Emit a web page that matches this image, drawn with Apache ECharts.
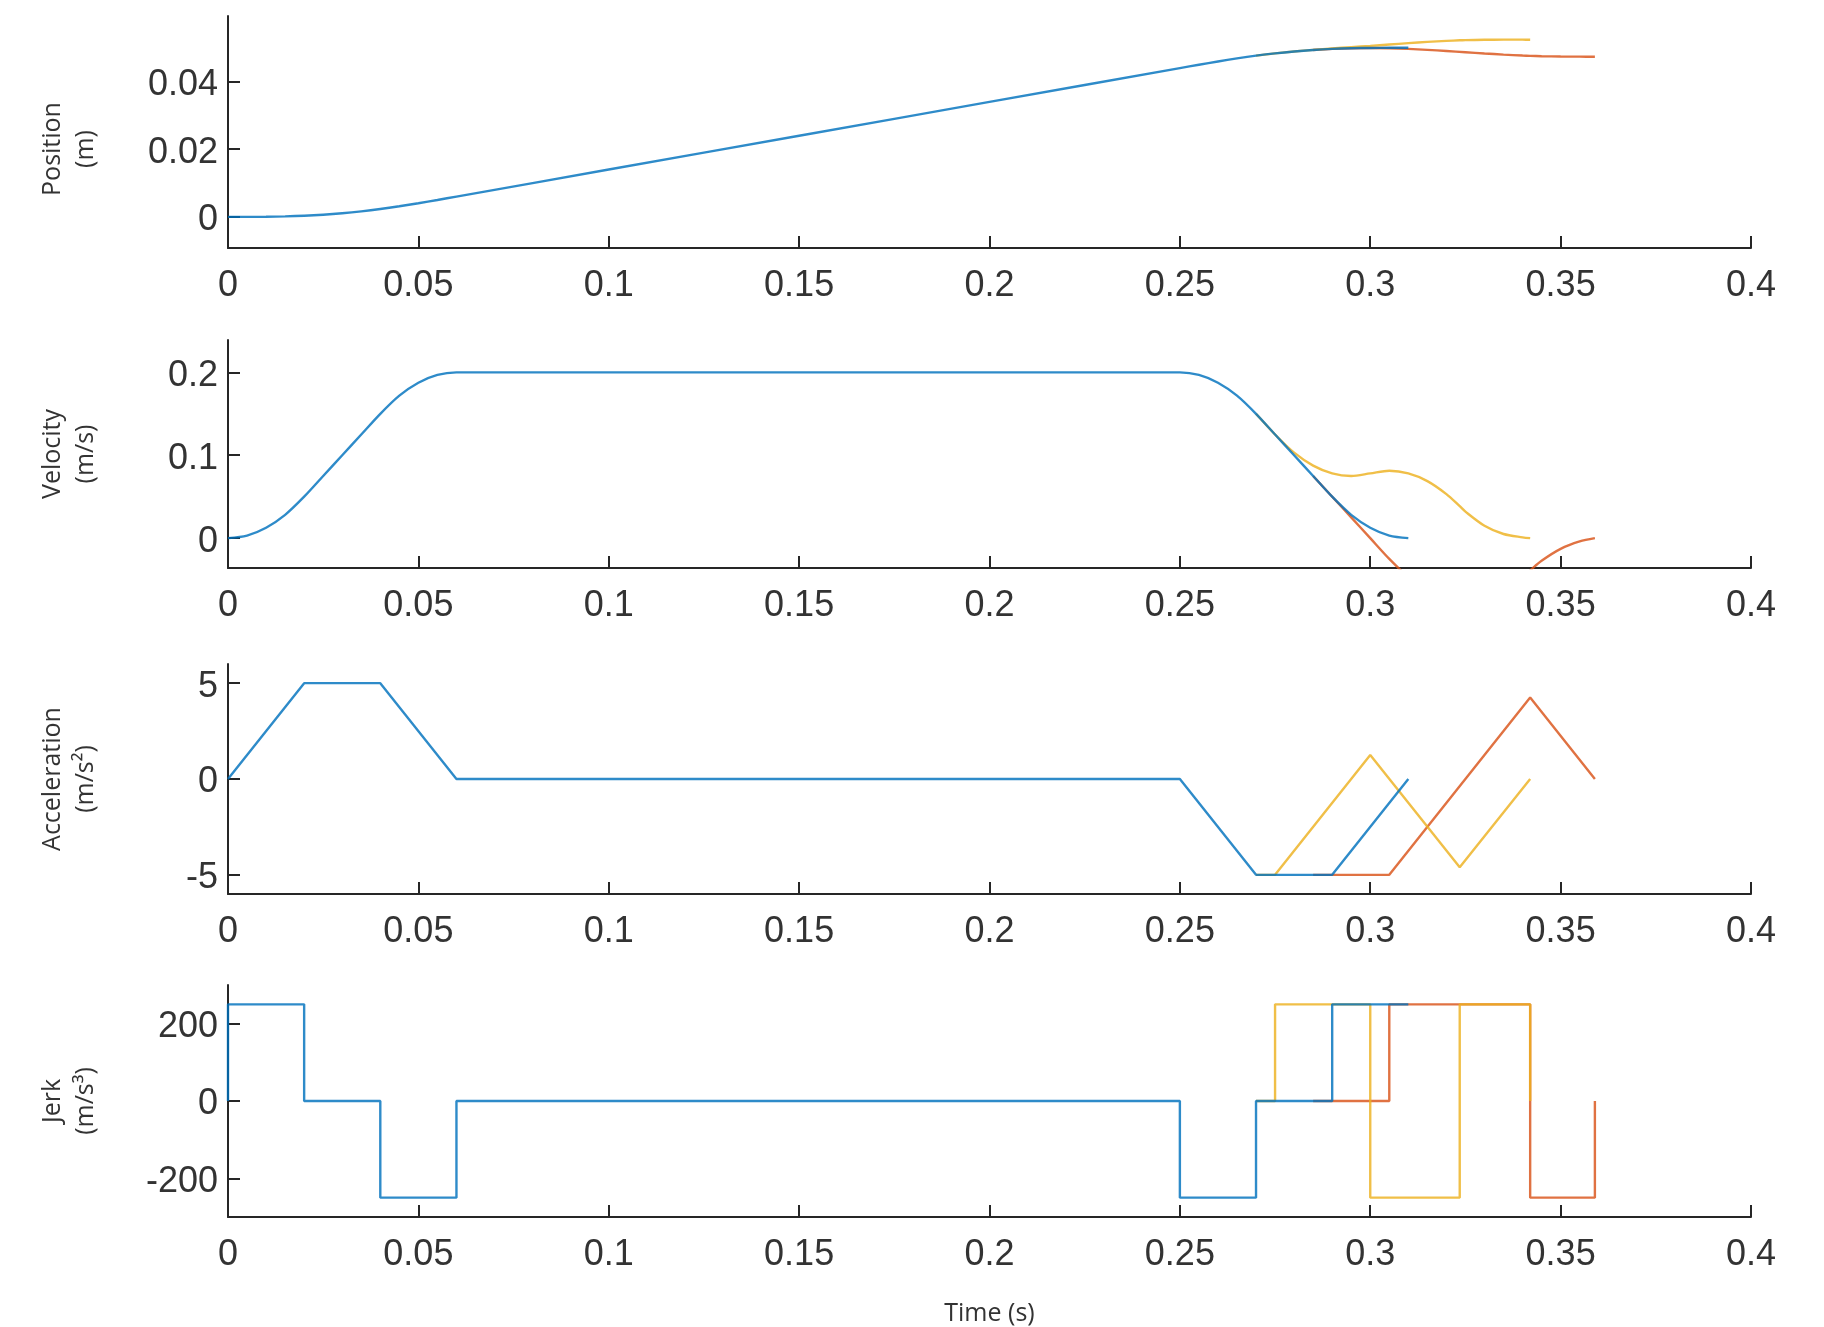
<!DOCTYPE html>
<html><head><meta charset="utf-8">
<script src="https://cdn.jsdelivr.net/npm/echarts@6/dist/echarts.min.js"></script>
<style>html,body{margin:0;padding:0;background:#fff}#c{width:1824px;height:1327px}</style>
</head><body><div id="c"></div>
<script>
// ---- Data ----
// Blue trajectory (position / velocity sample times)
const blueT   = [0,0.005,0.01,0.015,0.02,0.025,0.03,0.035,0.04,0.045,0.05,0.055,0.06,0.1,0.15,0.2,0.25,0.255,0.26,0.265,0.27,0.275,0.28,0.285,0.29,0.295,0.3,0.305,0.31];
const bluePos = [0,0.0000052,0.0000417,0.0001406,0.000333,0.000646,0.001083,0.001646,0.002333,0.003141,0.004042,0.005005,0.006,0.014,0.024,0.034,0.044,0.044995,0.045958,0.046859,0.047667,0.048354,0.048917,0.049354,0.049667,0.04986,0.049958,0.049995,0.05];
const blueVel = [0,0.0031,0.0125,0.0281,0.05,0.075,0.1,0.125,0.15,0.1719,0.1875,0.1969,0.2,0.2,0.2,0.2,0.2,0.1969,0.1875,0.1719,0.15,0.125,0.1,0.075,0.05,0.0281,0.0125,0.0031,0];
// Orange trajectory
const orangeT   = [0.285,0.29,0.295,0.3,0.305,0.31,0.315,0.32,0.325,0.33,0.335,0.34,0.342,0.345,0.35,0.355,0.359];
const orangePos = [0.049354,0.049667,0.049854,0.049917,0.049854,0.049672,0.049396,0.049057,0.048687,0.048318,0.047979,0.047703,0.047617,0.047518,0.047421,0.047379,0.047365];
const orangeVel = [0.075,0.05,0.025,0,-0.025,-0.0469,-0.0625,-0.0719,-0.075,-0.0719,-0.0625,-0.0469,-0.0389,-0.0273,-0.0129,-0.004,0];
// Yellow trajectory
const yellowT   = [0.27,0.275,0.28,0.285,0.29,0.295,0.3,0.305,0.31,0.315,0.32,0.3235,0.325,0.33,0.335,0.34,0.342];
const yellowPos = [0.047667,0.048354,0.048922,0.049396,0.049807,0.050187,0.050568,0.050969,0.05137,0.05174,0.052047,0.052208,0.05226,0.052372,0.052408,0.0524,0.052393];
const yellowVel = [0.15,0.125,0.1031,0.0875,0.0781,0.075,0.0781,0.0813,0.0781,0.0688,0.0531,0.0385,0.032,0.015,0.005,0.001,0];
// Acceleration breakpoints
const blueAccT   = [0,0.02,0.04,0.06,0.25,0.27,0.29,0.31];
const blueAcc    = [0,5,5,0,0,-5,-5,0];
const orangeAccT = [0.285,0.29,0.305,0.342,0.359];
const orangeAcc  = [-5,-5,-5,4.25,0];
const yellowAccT = [0.27,0.275,0.3,0.3235,0.342];
const yellowAcc  = [-5,-5,1.25,-4.6,0];
// Jerk steps
const blueJerkT   = [0,0,0.02,0.02,0.04,0.04,0.06,0.06,0.25,0.25,0.27,0.27,0.29,0.29,0.31];
const blueJerk    = [0,250,250,0,0,-250,-250,0,0,-250,-250,0,0,250,250];
const orangeJerkT = [0.285,0.305,0.305,0.342,0.342,0.359,0.359];
const orangeJerk  = [0,0,250,250,-250,-250,0];
const yellowJerkT = [0.27,0.275,0.275,0.3,0.3,0.3235,0.3235,0.342,0.342];
const yellowJerk  = [0,0,250,250,-250,-250,250,250,0];
// Axis ticks / labels
const yNames = ['Position\n(m)','Velocity\n(m/s)','Acceleration\n(m/s\u00B2)','Jerk\n(m/s\u00B3)'];
const yTicks = [[0,0.02,0.04],[0,0.1,0.2],[-5,0,5],[-200,0,200]];
const yRange = [[-0.0092,0.0594],[-0.036,0.239],[-6,6],[-300,300]];
const xTickInterval = 0.05;
const xRange = [0,0.4];

// ---- Chart ----
const COLORS = {blue:'#0072BD', orange:'#D95319', yellow:'#EDB120'};
const AX = '#262626';
const gridBoxes = [{top:16,height:232},{top:340,height:228},{top:664,height:230},{top:985,height:232}];
const zip = (t,v) => t.map((x,i)=>[x,v[i]]);

const grids = gridBoxes.map(g => ({left:228, right:73, top:g.top, height:g.height, containLabel:false}));
const xAxes = gridBoxes.map((g,i) => ({
  type:'value', gridIndex:i, min:xRange[0], max:xRange[1], interval:xTickInterval,
  axisLine:{show:true, onZero:false, lineStyle:{color:AX, width:2}},
  axisTick:{show:true, inside:true, length:12, lineStyle:{color:AX, width:2}},
  axisLabel:{show:true, margin:20, color:'#333', fontFamily:'Liberation Sans', fontSize:36},
  splitLine:{show:false},
  name: i===3 ? 'Time (s)' : '', nameLocation:'middle', nameGap:84,
  nameTextStyle:{fontFamily:'Open Sans', fontSize:25, color:'#333'}
}));
const yAxes = gridBoxes.map((g,i) => ({
  type:'value', gridIndex:i, min:yRange[i][0], max:yRange[i][1],
  axisLine:{show:true, onZero:false, lineStyle:{color:AX, width:2}},
  axisTick:{show:true, inside:true, length:12, customValues:yTicks[i], lineStyle:{color:AX, width:2}},
  axisLabel:{show:true, margin:10, customValues:yTicks[i], color:'#333', fontFamily:'Liberation Sans', fontSize:36,
    verticalAlign:'top', lineHeight:7},
  splitLine:{show:false},
  name: yNames[i], nameLocation:'middle', nameRotate:90, nameGap:126,
  nameTextStyle:{fontFamily:'Open Sans', fontSize:25, color:'#333', lineHeight:33, align:'center',
    padding: i===0 ? [0,34,0,0] : 0}
}));

function line(i, data, color, smooth){
  return {type:'line', xAxisIndex:i, yAxisIndex:i, data:data, showSymbol:false, symbol:'none',
    smooth: smooth ? 0.3 : false, clip:true,
    lineStyle:{color:color, width:2.4, opacity:0.82}, itemStyle:{color:color}, animation:false};
}
const series = [
  line(0, zip(orangeT, orangePos), COLORS.orange, true),
  line(0, zip(yellowT, yellowPos), COLORS.yellow, true),
  line(0, zip(blueT, bluePos), COLORS.blue, true),
  line(1, zip(orangeT, orangeVel), COLORS.orange, true),
  line(1, zip(yellowT, yellowVel), COLORS.yellow, true),
  line(1, zip(blueT, blueVel), COLORS.blue, true),
  line(2, zip(orangeAccT, orangeAcc), COLORS.orange, false),
  line(2, zip(yellowAccT, yellowAcc), COLORS.yellow, false),
  line(2, zip(blueAccT, blueAcc), COLORS.blue, false),
  line(3, zip(orangeJerkT, orangeJerk), COLORS.orange, false),
  line(3, zip(yellowJerkT, yellowJerk), COLORS.yellow, false),
  line(3, zip(blueJerkT, blueJerk), COLORS.blue, false)
];

const chart = echarts.init(document.getElementById('c'), null, {renderer:'canvas'});
chart.setOption({backgroundColor:'#fff', animation:false, grid:grids, xAxis:xAxes, yAxis:yAxes, series:series});
</script>
</body></html>
